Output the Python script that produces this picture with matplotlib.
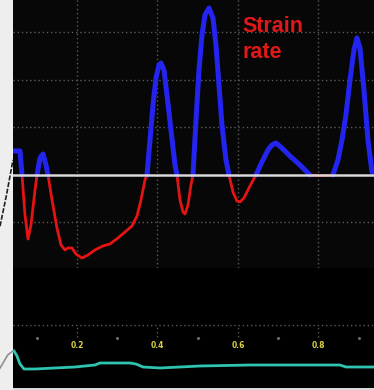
import numpy as np
import matplotlib
matplotlib.use("Agg")
import matplotlib.pyplot as plt

# strain-rate trace (time in s, strain rate in 1/s)
sr_t = [0.0435, 0.0584, 0.0634, 0.0708, 0.0783, 0.0857, 0.0957, 0.1006, 0.1081, 0.1155,
        0.1230, 0.1280, 0.1379, 0.1503, 0.1603, 0.1702, 0.1776, 0.1876, 0.1975, 0.2124,
        0.2273, 0.2447, 0.2646, 0.2820, 0.3019, 0.3193, 0.3366, 0.3491, 0.3590, 0.3689,
        0.3739, 0.3814, 0.3888, 0.3963, 0.4037, 0.4087, 0.4161, 0.4236, 0.4335, 0.4435,
        0.4484, 0.4559, 0.4634, 0.4683, 0.4758, 0.4832, 0.4882, 0.4957, 0.5031, 0.5106,
        0.5180, 0.5280, 0.5379, 0.5453, 0.5528, 0.5602, 0.5702, 0.5776, 0.5876, 0.5975,
        0.6050, 0.6149, 0.6298, 0.6447, 0.6596, 0.6745, 0.6845, 0.6944, 0.7093, 0.7292,
        0.7540, 0.7789, 0.8037, 0.8236, 0.8360, 0.8484, 0.8584, 0.8683, 0.8783, 0.8882,
        0.8957, 0.9031, 0.9130, 0.9230, 0.9329, 0.9380]
sr_v = [0.253, 0.253, 0.0, -0.421, -0.674, -0.526, -0.158, 0.0, 0.179, 0.221,
        0.105, 0.0, -0.263, -0.558, -0.737, -0.789, -0.768, -0.768, -0.832, -0.874,
        -0.842, -0.789, -0.747, -0.726, -0.663, -0.600, -0.537, -0.432, -0.263, -0.053,
        0.0, 0.368, 0.737, 1.021, 1.158, 1.179, 1.105, 0.842, 0.474, 0.105,
        0.0, -0.263, -0.389, -0.411, -0.316, -0.105, 0.0, 0.579, 1.105, 1.474,
        1.684, 1.758, 1.653, 1.368, 0.947, 0.526, 0.158, 0.0, -0.179, -0.274,
        -0.284, -0.242, -0.116, 0.0, 0.137, 0.263, 0.316, 0.337, 0.284, 0.200,
        0.105, 0.0, -0.005, -0.005, 0.0, 0.158, 0.368, 0.632, 1.000, 1.316,
        1.442, 1.337, 0.895, 0.368, 0.032, -0.02]

# ECG trace in the lower strip
ecg_t = [0.0435, 0.0509, 0.0584, 0.0683, 0.0957, 0.1453, 0.1950, 0.2447, 0.2571, 0.3317,
         0.3466, 0.3640, 0.4062, 0.5056, 0.6298, 0.7540, 0.8534, 0.8683, 0.9379]
ecg_v = [0.37, 0.32, 0.24, 0.19, 0.19, 0.20, 0.21, 0.23, 0.25, 0.25,
         0.24, 0.21, 0.20, 0.22, 0.23, 0.23, 0.23, 0.21, 0.21]

time_ticks = [0.2, 0.4, 0.6, 0.8]
minor_ticks = [0.1, 0.3, 0.5, 0.7, 0.9]
sr_grid = [-0.5, 0.5, 1.0, 1.5]

W, H = 374, 390
fig = plt.figure(figsize=(W / 100, H / 100), dpi=100, facecolor="#d9d9d9")

# left light strip
strip = fig.add_axes([0, 0, 13 / W, 1])
strip.set_xlim(0, 1)
strip.set_ylim(0, 1)
strip.axis("off")
strip.add_patch(plt.Rectangle((0, 0), 1, 1, color="#eeeeee", zorder=0))
strip.plot([0, 0.5, 1], [0.42, 0.50, 0.59], color="#222222", lw=1.2, ls=(0, (3, 1)))
strip.plot([0, 0.6, 1], [0.056, 0.09, 0.10], color="#909090", lw=1.2)

lx = 13 / W
ax = fig.add_axes([lx, (H - 268) / H, 1 - lx, 268 / H])
ax.set_facecolor("#070707")
ax.set_xlim(0.041, 0.938)
ax.set_ylim(-0.979, 1.842)
for s in ["top", "bottom", "left", "right"]:
    ax.spines[s].set_visible(False)
ax.set_xticks([])
ax.set_yticks([])
for g in sr_grid:
    ax.axhline(g, color="#5a5a5a", lw=1, ls=(0, (1, 2)), zorder=1)
for g in time_ticks:
    ax.axvline(g, color="#5a5a5a", lw=1, ls=(0, (1, 2)), zorder=1)

t = np.array(sr_t)
v = np.array(sr_v)
ax.plot(t, np.where(v <= 0, v, np.nan), color="#e41414", lw=2.0, solid_capstyle="round", zorder=2)
ax.plot(t, np.where(v >= 0, v, np.nan), color="#2424f0", lw=3.6, solid_capstyle="round", zorder=3)
ax.axhline(0, color="#d8d8d8", lw=1.8, zorder=4)
ax.text(0.612, 1.67, "Strain\nrate", color="#e01818", fontsize=15.5, fontweight="bold",
        family="Liberation Sans", ha="left", va="top", linespacing=1.3, zorder=5)

# lower ECG panel
bx = fig.add_axes([lx, 2 / H, 1 - lx, 120 / H])
bx.set_facecolor("#000000")
bx.set_xlim(0.041, 0.938)
bx.set_ylim(0, 1.2)
for s in ["top", "bottom", "left", "right"]:
    bx.spines[s].set_visible(False)
bx.set_xticks([])
bx.set_yticks([])
bx.axhline(0.63, color="#5a5a5a", lw=1, ls=(0, (1, 2)))
for g in time_ticks:
    bx.plot([g, g], [0.51, 0.63], color="#5a5a5a", lw=1, ls=(0, (1, 2)))
    bx.text(g, 0.42, f"{g:.1f}", color="#d8d048", fontsize=5.5, fontweight="bold",
            ha="center", va="center")
bx.scatter(minor_ticks, [0.5] * len(minor_ticks), s=1.5, color="#6a6a6a")
bx.plot(ecg_t, ecg_v, color="#2ec4b0", lw=2.0)

fig.savefig("out.png", dpi=100, facecolor=fig.get_facecolor())
